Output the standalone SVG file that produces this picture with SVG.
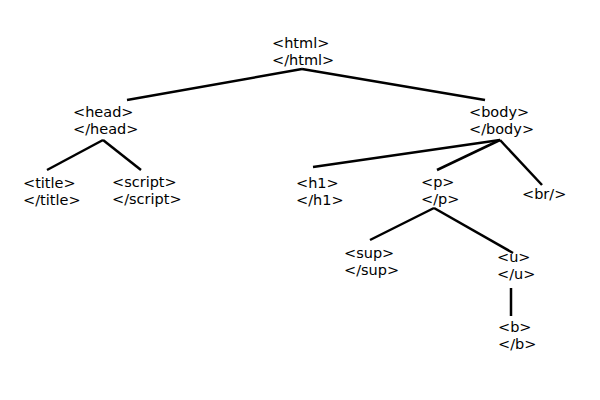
<svg xmlns="http://www.w3.org/2000/svg" width="600" height="400" viewBox="0 0 600 400">
<style>
text{font-family:"DejaVu Sans",sans-serif;font-size:14.5px;fill:#000}
line{stroke:#000;stroke-width:2.5;stroke-linecap:butt}
</style>
<rect width="600" height="400" fill="#fff"/>
<g id="connectors">
<line x1="302" y1="69" x2="127" y2="100"/>
<line x1="302" y1="69" x2="485" y2="100"/>
<line x1="103" y1="140" x2="47" y2="170"/>
<line x1="103" y1="140" x2="141" y2="170"/>
<line x1="500" y1="140" x2="313" y2="167"/>
<line x1="500" y1="140" x2="437" y2="170"/>
<line x1="500" y1="140" x2="542" y2="185"/>
<line x1="434" y1="208" x2="370" y2="240"/>
<line x1="434" y1="208" x2="513" y2="253"/>
<line x1="511" y1="288" x2="511" y2="316"/>
</g>
<g id="html"><text x="272" y="48">&lt;html&gt;</text><text x="272" y="65">&lt;/html&gt;</text></g>
<g id="head"><text x="73" y="117">&lt;head&gt;</text><text x="73" y="134">&lt;/head&gt;</text></g>
<g id="body"><text x="469" y="117">&lt;body&gt;</text><text x="469" y="134">&lt;/body&gt;</text></g>
<g id="title"><text x="23" y="188">&lt;title&gt;</text><text x="23" y="205">&lt;/title&gt;</text></g>
<g id="script"><text x="112" y="187">&lt;script&gt;</text><text x="112" y="204">&lt;/script&gt;</text></g>
<g id="h1"><text x="296" y="188">&lt;h1&gt;</text><text x="296" y="205">&lt;/h1&gt;</text></g>
<g id="p"><text x="421" y="187">&lt;p&gt;</text><text x="421" y="204">&lt;/p&gt;</text></g>
<g id="br"><text x="522" y="199">&lt;br/&gt;</text></g>
<g id="sup"><text x="344" y="258">&lt;sup&gt;</text><text x="344" y="275">&lt;/sup&gt;</text></g>
<g id="u"><text x="497" y="262">&lt;u&gt;</text><text x="497" y="279">&lt;/u&gt;</text></g>
<g id="b"><text x="498" y="332">&lt;b&gt;</text><text x="498" y="349">&lt;/b&gt;</text></g>
</svg>
